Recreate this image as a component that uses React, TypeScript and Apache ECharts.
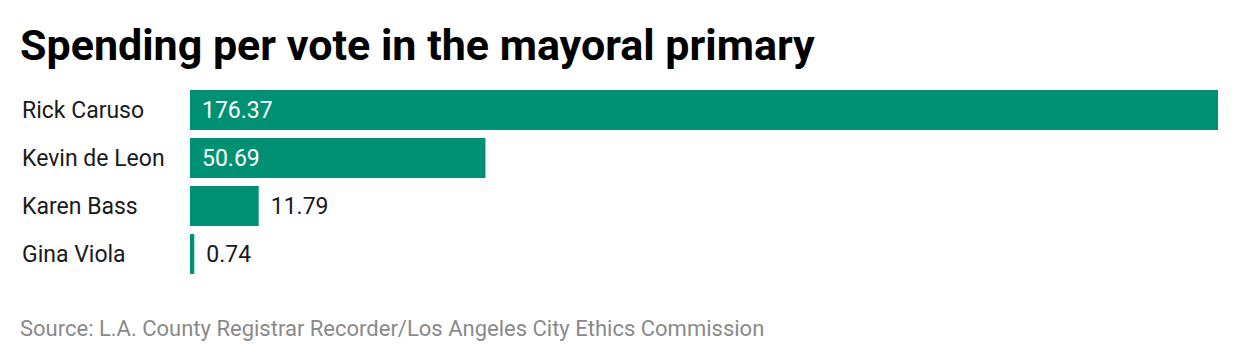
import React, { useEffect, useRef } from "react";
import * as echarts from "echarts";

const categories = ["Rick Caruso", "Kevin de Leon", "Karen Bass", "Gina Viola"];
const values = [176.37, 50.69, 11.79, 0.74];
const titleText = "Spending per vote in the mayoral primary";
const sourceText = "Source: L.A. County Registrar Recorder/Los Angeles City Ethics Commission";

export default function App() {
  const ref = useRef<HTMLDivElement>(null);
  useEffect(() => {
    document.body.style.margin = "0";
    const chart = echarts.init(ref.current!, null, { renderer: "svg" });
    const maxV = Math.max(...values);
    const data = values.map((v) => {
      const inside = v / maxV > 0.15;
      return {
        value: v,
        label: inside
          ? { position: "insideLeft", color: "#ffffff", offset: [2, 0] }
          : { position: "right", color: "#1a1a1a", offset: [2, 0] },
      };
    });
    chart.setOption({
      animation: false,
      graphic: [
        {
          type: "text",
          x: 20,
          y: 45,
          style: {
            text: titleText,
            fontFamily: "Roboto",
            fontWeight: "bold",
            fontSize: 43,
            fill: "#000000",
            verticalAlign: "middle",
          },
        },
        {
          type: "text",
          x: 20,
          y: 328,
          style: {
            text: sourceText,
            fontFamily: "Roboto",
            fontSize: 22,
            fill: "#8a8a8a",
            verticalAlign: "middle",
          },
        },
      ],
      grid: { left: 190, right: 22, top: 86, height: 192, containLabel: false },
      xAxis: {
        type: "value",
        min: 0,
        max: maxV,
        show: false,
      },
      yAxis: {
        type: "category",
        data: categories,
        inverse: true,
        axisLine: { show: false },
        axisTick: { show: false },
        splitLine: { show: false },
        axisLabel: {
          align: "left",
          margin: 168,
          fontFamily: "Roboto",
          fontSize: 23,
          color: "#1a1a1a",
        },
      },
      series: [
        {
          type: "bar",
          data,
          barCategoryGap: "17%",
          itemStyle: { color: "#009175" },
          label: {
            show: true,
            fontFamily: "Roboto",
            fontSize: 23,
            distance: 10,
            formatter: (p: any) => p.value.toFixed(2),
          },
        },
      ],
    });
    return () => chart.dispose();
  }, []);
  return <div ref={ref} style={{ width: 1240, height: 360 }} />;
}
